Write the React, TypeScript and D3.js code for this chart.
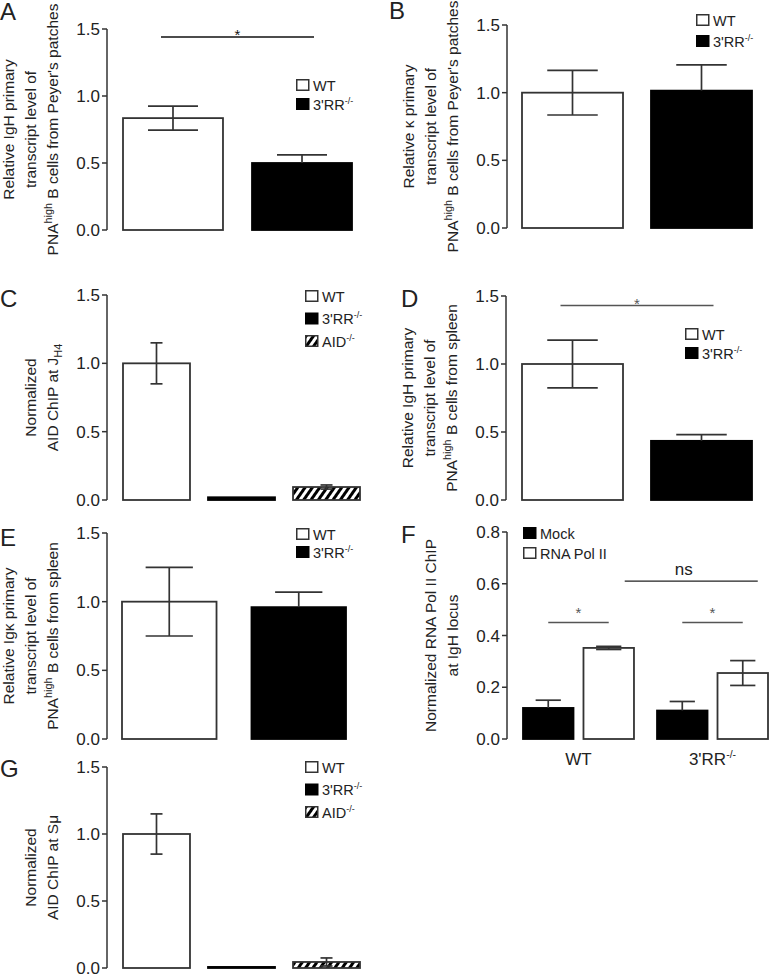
import React from "react";
import * as d3 from "d3";

// ---------------- DATA ----------------
const cats2 = ["WT", "3'RR-/-"];
const cats3 = ["WT", "3'RR-/-", "AID-/-"];

const panelAValues = [0.835, 0.5];
const panelAErrors = [0.09, 0.06];

const panelBValues = [1.0, 1.015];
const panelBErrors = [0.165, 0.19];

const panelCValues = [1.0, 0.02, 0.095];
const panelCErrors = [0.15, 0, 0.015];

const panelDValues = [1.0, 0.435];
const panelDErrors = [0.175, 0.045];

const panelEValues = [1.0, 0.96];
const panelEErrors = [0.25, 0.11];

const panelFGroups = ["WT", "3'RR-/-"];
const panelFSeries = ["Mock", "RNA Pol II"];
const panelFMock = [0.12, 0.11];
const panelFMockErr = [0.03, 0.035];
const panelFPol = [0.352, 0.255];
const panelFPolErr = [0.006, 0.048];

const panelGValues = [1.0, 0.008, 0.045];
const panelGErrors = [0.15, 0, 0.03];

const ticks15 = [0, 0.5, 1.0, 1.5];
const ticksF = [0, 0.2, 0.4, 0.6, 0.8];

// ---------------- STYLE ----------------
const FONT = "'Liberation Sans', Arial, Helvetica, sans-serif";
const INK = "#222";
const STROKE = "#333";
const fmt = d3.format(".1f");

type Seg = { t: string; sup?: boolean; sub?: boolean };

const fillOf: Record<string, string> = {
  WT: "#fff",
  "3'RR-/-": "#000",
  "AID-/-": "url(#hatch)",
  Mock: "#000",
  "RNA Pol II": "#fff",
};

const labelSegs: Record<string, Seg[]> = {
  WT: [{ t: "WT" }],
  "3'RR-/-": [{ t: "3'RR" }, { t: "-/-", sup: true }],
  "AID-/-": [{ t: "AID" }, { t: "-/-", sup: true }],
  Mock: [{ t: "Mock" }],
  "RNA Pol II": [{ t: "RNA Pol II" }],
};

function Rich({ segs, fs, supScale = 0.62 }: { segs: Seg[]; fs: number; supScale?: number }) {
  let shift = 0;
  return (
    <>
      {segs.map((s, i) => {
        const target = s.sup ? -fs * 0.42 : s.sub ? fs * 0.28 : 0;
        const dy = target - shift;
        shift = target;
        return (
          <tspan key={i} dy={dy !== 0 ? dy : undefined} fontSize={s.sup || s.sub ? fs * supScale : fs}>
            {s.t}
          </tspan>
        );
      })}
    </>
  );
}

function YAxis({ x, y, ticks }: { x: number; y: d3.ScaleLinear<number, number>; ticks: number[] }) {
  return (
    <g>
      <line x1={x} x2={x} y1={y(ticks[0])} y2={y(ticks[ticks.length - 1])} stroke={STROKE} strokeWidth={1.5} />
      {ticks.map((t) => (
        <g key={t}>
          <line x1={x - 5} x2={x} y1={y(t)} y2={y(t)} stroke={STROKE} strokeWidth={1.5} />
          <text x={x - 7} y={y(t)} dy="0.36em" textAnchor="end" fontSize={17} fill={INK}>
            {fmt(t)}
          </text>
        </g>
      ))}
    </g>
  );
}

function YTitle({ axisX, cy, lines }: { axisX: number; cy: number; lines: Seg[][] }) {
  const n = lines.length;
  return (
    <g>
      {lines.map((segs, i) => {
        const bx = axisX - 49 - 22 * (n - 1 - i);
        return (
          <text key={i} transform={`translate(${bx},${cy}) rotate(-90)`} textAnchor="middle" fontSize={15.5} fill={INK}>
            <Rich segs={segs} fs={15.5} supScale={0.7} />
          </text>
        );
      })}
    </g>
  );
}

function Legend({ x, y, gap, items }: { x: number; y: number; gap: number; items: string[] }) {
  return (
    <g>
      {items.map((k, i) => (
        <g key={k} transform={`translate(${x},${y + i * gap})`}>
          <rect x={0.75} y={0.75} width={12} height={10.5} fill={fillOf[k]} stroke={k === "3'RR-/-" || k === "Mock" ? "#000" : STROKE} strokeWidth={1.5} />
          <text x={17} y={11.8} fontSize={14.5} fill={INK}>
            <Rich segs={labelSegs[k]} fs={14.5} />
          </text>
        </g>
      ))}
    </g>
  );
}

function ErrorBar({ cx, y, v, e, cap, upperOnly }: { cx: number; y: any; v: number; e: number; cap: number; upperOnly: boolean }) {
  if (!e) return null;
  const top = y(v + e);
  const bot = upperOnly ? y(v) : y(v - e);
  return (
    <g stroke={STROKE} strokeWidth={1.7}>
      <line x1={cx} x2={cx} y1={top} y2={bot} />
      <line x1={cx - cap / 2} x2={cx + cap / 2} y1={top} y2={top} />
      {!upperOnly && <line x1={cx - cap / 2} x2={cx + cap / 2} y1={bot} y2={bot} />}
    </g>
  );
}

type PanelProps = {
  letter: string;
  letterPos: [number, number];
  axisX: number;
  yZero: number;
  yTop: number;
  cats: string[];
  values: number[];
  errors: number[];
  barRange: [number, number];
  pad: number;
  capFixed?: number;
  title: Seg[][];
  legend: { x: number; y: number; gap: number };
  sig?: { v: number; color: string };
};

function BarPanel(p: PanelProps) {
  const y = d3.scaleLinear().domain([0, 1.5]).range([p.yZero, p.yTop]);
  const x = d3.scaleBand<string>().domain(p.cats).range(p.barRange).paddingInner(p.pad).paddingOuter(0);
  const bw = x.bandwidth();
  const cap = p.capFixed ?? bw / 2;
  return (
    <g>
      <text x={p.letterPos[0]} y={p.letterPos[1]} fontSize={24} fill={INK}>
        {p.letter}
      </text>
      <YTitle axisX={p.axisX} cy={(p.yZero + p.yTop) / 2} lines={p.title} />
      {p.cats.map((c, i) => {
        const x0 = x(c)!;
        const black = fillOf[c] === "#000";
        return (
          <g key={c}>
            <rect
              x={x0}
              y={y(p.values[i])}
              width={bw}
              height={y(0) - y(p.values[i])}
              fill={fillOf[c]}
              stroke={black ? "#000" : STROKE}
              strokeWidth={1.8}
            />
            <ErrorBar cx={x0 + bw / 2} y={y} v={p.values[i]} e={p.errors[i]} cap={cap} upperOnly={black} />
          </g>
        );
      })}
      <YAxis x={p.axisX} y={y} ticks={ticks15} />
      <Legend x={p.legend.x} y={p.legend.y} gap={p.legend.gap} items={p.cats} />
      {p.sig && (
        <g>
          <line
            x1={x(p.cats[0])! + bw / 2 - 12}
            x2={x(p.cats[1])! + bw / 2 + 12}
            y1={y(p.sig.v)}
            y2={y(p.sig.v)}
            stroke={p.sig.color}
            strokeWidth={1.4}
          />
          <text
            x={(x(p.cats[0])! + x(p.cats[1])! + bw) / 2}
            y={y(p.sig.v) + 3}
            textAnchor="middle"
            fontSize={15}
            fill={p.sig.color}
          >
            *
          </text>
        </g>
      )}
    </g>
  );
}

function PanelF() {
  const axisX = 507;
  const yZero = 739;
  const yTop = 532;
  const y = d3.scaleLinear().domain([0, 0.8]).range([yZero, yTop]);
  const x0 = d3.scaleBand<string>().domain(panelFGroups).range([523, 768]).paddingInner(0.172).paddingOuter(0);
  const x1 = d3.scaleBand<string>().domain(panelFSeries).range([0, x0.bandwidth()]).paddingInner(0.165).paddingOuter(0);
  const bw = x1.bandwidth();
  const seriesVals: Record<string, number[]> = { Mock: panelFMock, "RNA Pol II": panelFPol };
  const seriesErr: Record<string, number[]> = { Mock: panelFMockErr, "RNA Pol II": panelFPolErr };
  const cx = (g: string, s: string) => x0(g)! + x1(s)! + bw / 2;
  const sigColor = "#555";
  return (
    <g>
      <text x={401} y={543} fontSize={24} fill={INK}>
        F
      </text>
      <YTitle
        axisX={axisX}
        cy={(yZero + yTop) / 2}
        lines={[[{ t: "Normalized RNA Pol II ChIP" }], [{ t: "at IgH locus" }]]}
      />
      {panelFGroups.map((g, gi) => (
        <g key={g}>
          {panelFSeries.map((s) => {
            const v = seriesVals[s][gi];
            const e = seriesErr[s][gi];
            const black = fillOf[s] === "#000";
            return (
              <g key={s}>
                <rect
                  x={x0(g)! + x1(s)!}
                  y={y(v)}
                  width={bw}
                  height={y(0) - y(v)}
                  fill={fillOf[s]}
                  stroke={black ? "#000" : STROKE}
                  strokeWidth={1.8}
                />
                <ErrorBar cx={cx(g, s)} y={y} v={v} e={e} cap={bw / 2} upperOnly={black} />
              </g>
            );
          })}
          <text x={x0(g)! + x0.bandwidth() / 2} y={765} textAnchor="middle" fontSize={17} fill={INK}>
            <Rich segs={labelSegs[g]} fs={17} />
          </text>
          <line
            x1={cx(g, "Mock")}
            x2={cx(g, "RNA Pol II")}
            y1={y(0.45)}
            y2={y(0.45)}
            stroke={sigColor}
            strokeWidth={1.4}
          />
          <text
            x={(cx(g, "Mock") + cx(g, "RNA Pol II")) / 2}
            y={y(0.45) - 5}
            textAnchor="middle"
            fontSize={15}
            fill={sigColor}
          >
            *
          </text>
        </g>
      ))}
      <line
        x1={cx("WT", "RNA Pol II") + 16}
        x2={cx("3'RR-/-", "RNA Pol II") + 15}
        y1={y(0.61)}
        y2={y(0.61)}
        stroke={INK}
        strokeWidth={1.4}
      />
      <text
        x={(cx("WT", "RNA Pol II") + cx("3'RR-/-", "RNA Pol II")) / 2 + 8}
        y={y(0.61) - 6}
        textAnchor="middle"
        fontSize={17}
        fill={INK}
      >
        ns
      </text>
      <YAxis x={axisX} y={y} ticks={ticksF} />
      <Legend x={523} y={527} gap={20} items={panelFSeries} />
    </g>
  );
}

const pnaLine = (rest: string): Seg[] => [{ t: "PNA" }, { t: "high", sup: true }, { t: " B cells from " + rest }];

export default function App() {
  return (
    <div style={{ position: "absolute", left: 0, top: 0 }}>
      <svg width={769} height={974} style={{ display: "block", background: "#fff", fontFamily: FONT }}>
        <defs>
          <pattern id="hatch" patternUnits="userSpaceOnUse" width={6} height={6} patternTransform="rotate(35)">
            <rect width={6} height={6} fill="#fff" />
            <rect x={0} width={3} height={6} fill="#000" />
          </pattern>
        </defs>
        <rect width={769} height={974} fill="#fff" />
        <BarPanel
          letter="A"
          letterPos={[0, 20]}
          axisX={107}
          yZero={230}
          yTop={29}
          cats={cats2}
          values={panelAValues}
          errors={panelAErrors}
          barRange={[123, 352]}
          pad={0.225}
          title={[[{ t: "Relative IgH primary" }], [{ t: "transcript level of" }], pnaLine("Peyer's patches")]}
          legend={{ x: 296, y: 79, gap: 19 }}
          sig={{ v: 1.44, color: "#111" }}
        />
        <BarPanel
          letter="B"
          letterPos={[389, 19]}
          axisX={507}
          yZero={228}
          yTop={25}
          cats={cats2}
          values={panelBValues}
          errors={panelBErrors}
          barRange={[522, 752]}
          pad={0.217}
          title={[[{ t: "Relative κ primary" }], [{ t: "transcript level of" }], pnaLine("Peyer's patches")]}
          legend={{ x: 696, y: 14, gap: 21 }}
        />
        <BarPanel
          letter="C"
          letterPos={[0, 307]}
          axisX={107}
          yZero={500}
          yTop={295}
          cats={cats3}
          values={panelCValues}
          errors={panelCErrors}
          barRange={[123, 360]}
          pad={0.212}
          capFixed={12}
          title={[[{ t: "Normalized" }], [{ t: "AID ChIP at J" }, { t: "H4", sub: true }]]}
          legend={{ x: 305, y: 290, gap: 22.5 }}
        />
        <BarPanel
          letter="D"
          letterPos={[401, 307]}
          axisX={506}
          yZero={500}
          yTop={296}
          cats={cats2}
          values={panelDValues}
          errors={panelDErrors}
          barRange={[522, 752]}
          pad={0.217}
          title={[[{ t: "Relative IgH primary" }], [{ t: "transcript level of" }], pnaLine("spleen")]}
          legend={{ x: 685, y: 328, gap: 19 }}
          sig={{ v: 1.43, color: "#555" }}
        />
        <BarPanel
          letter="E"
          letterPos={[0, 546]}
          axisX={107}
          yZero={739}
          yTop={533}
          cats={cats2}
          values={panelEValues}
          errors={panelEErrors}
          barRange={[122, 346]}
          pad={0.27}
          title={[[{ t: "Relative Igκ primary" }], [{ t: "transcript level of" }], pnaLine("spleen")]}
          legend={{ x: 296, y: 528, gap: 18 }}
        />
        <PanelF />
        <BarPanel
          letter="G"
          letterPos={[0, 777]}
          axisX={107}
          yZero={968}
          yTop={767}
          cats={cats3}
          values={panelGValues}
          errors={panelGErrors}
          barRange={[123, 360]}
          pad={0.212}
          capFixed={12}
          title={[[{ t: "Normalized" }], [{ t: "AID ChIP at Sμ" }]]}
          legend={{ x: 305, y: 761, gap: 22.5 }}
        />
      </svg>
    </div>
  );
}
